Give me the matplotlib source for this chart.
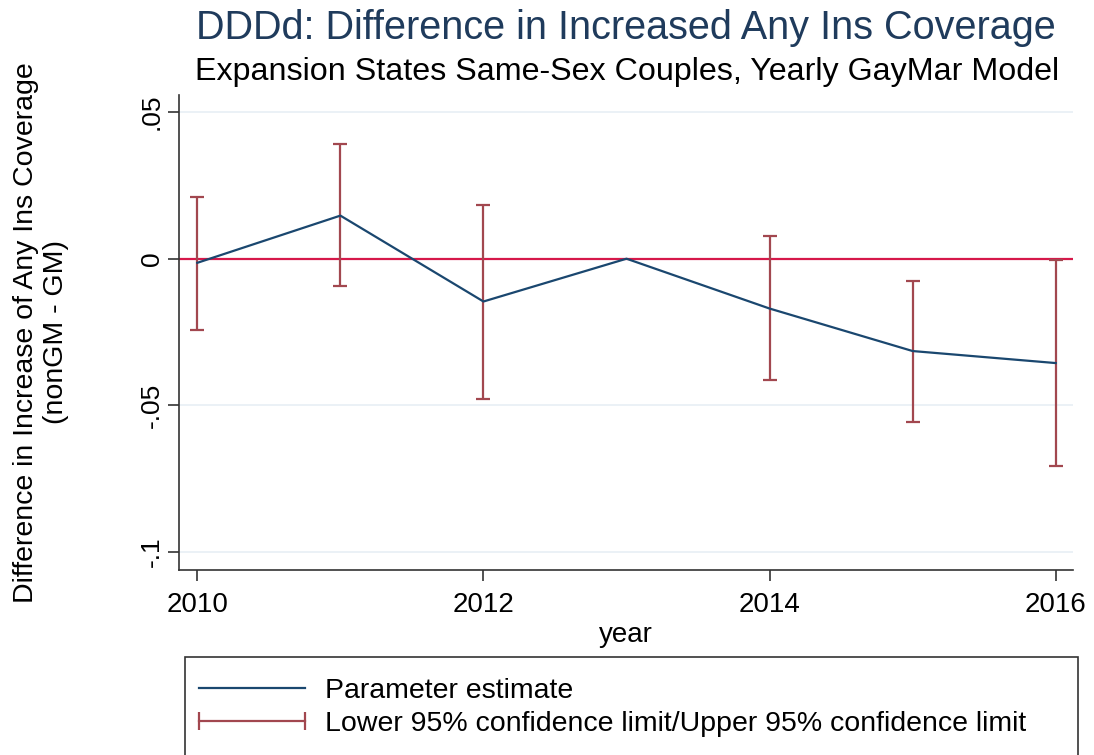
import numpy as np
import matplotlib
matplotlib.use("Agg")
import matplotlib.pyplot as plt
from matplotlib.lines import Line2D
from matplotlib.patches import Rectangle
from matplotlib.legend_handler import HandlerLine2D

plt.rcParams['font.family'] = ['Liberation Sans', 'DejaVu Sans']

# Data
years = [2010, 2011, 2012, 2013, 2014, 2015, 2016]
estimate = [-0.0014, 0.0147, -0.0146, 0.0, -0.0170, -0.0315, -0.0356]
upper_ci = [0.0212, 0.0392, 0.0183, np.nan, 0.0079, -0.0075, -0.0006]
lower_ci = [-0.0244, -0.0094, -0.0477, np.nan, -0.0415, -0.0556, -0.0706]
xticks = [2010, 2012, 2014, 2016]
yticks = [0.05, 0, -0.05, -0.1]
ytick_labels = [".05", "0", "-.05", "-.1"]

navy = "#1a476f"
maroon = "#a2474f"

fig = plt.figure(figsize=(10.94, 7.55), dpi=100)
ax = fig.add_axes([0.1639, 0.245, 0.8169, 0.629])

up = np.array(upper_ci)
lo = np.array(lower_ci)

# grid
for y in yticks:
    ax.axhline(y, color="#e8eff5", lw=1.2, zorder=0)

ax.axhline(0, color="#d6184a", lw=1.6, zorder=1)

ax.errorbar(years, (up + lo) / 2, yerr=(up - lo) / 2, fmt="none",
            ecolor=maroon, elinewidth=1.6, capsize=5, capthick=1.6, zorder=2)
ln, = ax.plot(years, estimate, color=navy, lw=1.6, zorder=3)

ax.set_xlim(2009.874, 2016.121)
ax.set_ylim(-0.1062, 0.0558)
ax.set_xticks(xticks)
ax.set_xticklabels([str(x) for x in xticks], fontsize=20)
ax.set_yticks(yticks)
ax.set_yticklabels(ytick_labels, fontsize=19, rotation=90, va="center")
ax.tick_params(direction="out", length=8, width=1.2, color="#333333")
ax.tick_params(axis="y", pad=3)
ax.tick_params(axis="x", pad=8)

for s in ["top", "right"]:
    ax.spines[s].set_visible(False)
for s in ["left", "bottom"]:
    ax.spines[s].set_color("#333333")
    ax.spines[s].set_linewidth(1.2)

ax.set_xlabel("year", fontsize=20, labelpad=3)
fig.text(41 / 1094, 0.56, "Difference in Increase of Any Ins Coverage\n(nonGM - GM)",
         fontsize=20.5, rotation=90, ha="center", va="center",
         multialignment="center", linespacing=1.2)

fig.text(0.572, 0.963, "DDDd: Difference in Increased Any Ins Coverage",
         fontsize=28.5, color="#1f3b5c", ha="center", va="center")
fig.text(0.573, 0.905, "Expansion States Same-Sex Couples, Yearly GayMar Model",
         fontsize=23.2, color="black", ha="center", va="center")

# legend frame (runs off the bottom of the figure as in the reference)
fig.patches.append(Rectangle((185 / 1094, -0.02), 893 / 1094, 0.02 + 1 - 657 / 755,
                             transform=fig.transFigure, fill=False,
                             edgecolor="#333333", lw=1.2))

ci_handle = Line2D([], [], color=maroon, lw=1.6, marker="|", markersize=13, mew=1.6)
leg = fig.legend([ln, ci_handle], ["Parameter estimate",
                                   "Lower 95% confidence limit/Upper 95% confidence limit"],
                 loc="upper left", bbox_to_anchor=(185 / 1094, 1 - 664 / 755 - 0.01, 893 / 1094, 0.01),
                 mode="expand", fontsize=20.5, frameon=False, numpoints=2,
                 handlelength=3.7, handletextpad=0.7, borderpad=0.5, labelspacing=0.25,
                 borderaxespad=0,
                 handler_map={ln: HandlerLine2D(marker_pad=0),
                              ci_handle: HandlerLine2D(marker_pad=0)})

fig.savefig("out.png", dpi=100)
